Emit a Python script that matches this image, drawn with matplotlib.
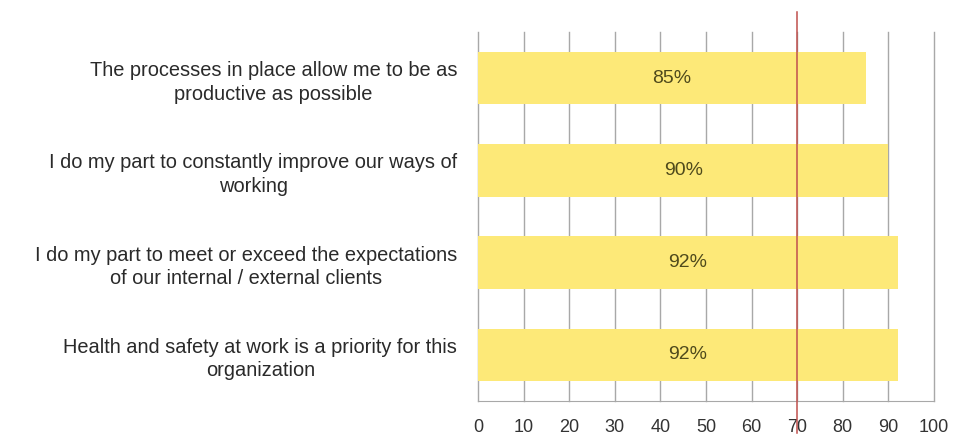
import matplotlib.pyplot as plt
from matplotlib.transforms import blended_transform_factory

plt.rcParams['font.family'] = ['Liberation Sans', 'DejaVu Sans']

# survey statements and agreement scores (%)
statements = [
    'The processes in place allow me to be as\nproductive as possible',
    'I do my part to constantly improve our ways of\nworking',
    'I do my part to meet or exceed the expectations\nof our internal / external clients',
    'Health and safety at work is a priority for this\norganization',
]
scores = [85, 90, 92, 92]
target = 70
ticks = list(range(0, 101, 10))

fig = plt.figure(figsize=(9.65, 4.36), dpi=100)
ax = fig.add_axes([0.4953, 0.0803, 0.4726, 0.8463])

ypos = list(range(len(statements)))
ax.barh(ypos, scores, height=0.57, color='#fde978', zorder=2)
for y, v in zip(ypos, scores):
    ax.text(v / 2, y, f'{v}%', ha='center', va='center', fontsize=14,
            color='#4f4a1c', zorder=3)

ax.set_ylim(len(statements) - 0.5, -0.5)
ax.set_xlim(0, 100)
ax.set_xticks(ticks)
ax.set_xticklabels([str(t) for t in ticks], fontsize=13, color='#333333')
ax.set_yticks(ypos)
ax.set_yticklabels(statements, fontsize=14.4, color='#2a2a2a',
                   multialignment='center', linespacing=1.3)
ax.tick_params(axis='both', length=0)
ax.tick_params(axis='y', pad=15)
ax.tick_params(axis='x', pad=13)

ax.grid(axis='x', color='#a8a8a8', linewidth=1, zorder=1)
for line in ax.get_xgridlines():
    line.set_clip_on(False)
for side in ['top', 'right', 'left']:
    ax.spines[side].set_visible(False)
ax.spines['bottom'].set_color('#a8a8a8')

# target line
trans = blended_transform_factory(ax.transData, ax.transAxes)
ax.plot([target, target], [-0.087, 1.054], transform=trans, color='#c0504d',
        linewidth=1.1, clip_on=False, zorder=4)

fig.savefig('out.png', dpi=100)
